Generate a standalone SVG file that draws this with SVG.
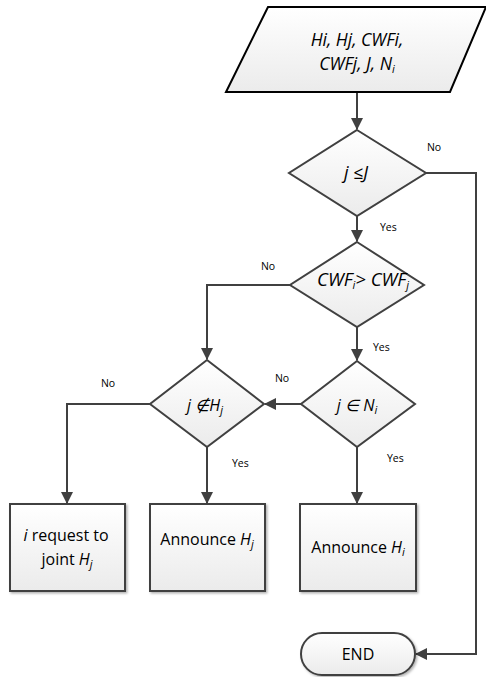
<svg xmlns="http://www.w3.org/2000/svg" width="486" height="677" viewBox="0 0 486 677">
<style>
.shape{fill:url(#g);stroke:#404040;stroke-width:2}
.io{fill:url(#g);stroke:#000;stroke-width:2}
.conn{fill:none;stroke:#404040;stroke-width:2}
.t{font-family:"Open Sans","Liberation Sans",sans-serif;font-size:16px;fill:#000;text-anchor:middle}
.it{font-style:italic}
.lbl{font-family:"Open Sans","Liberation Sans",sans-serif;font-size:10.5px;fill:#000}
.sub{font-size:11px}
</style>
<defs>
<linearGradient id="g" x1="0" y1="0" x2="0" y2="1">
<stop offset="0" stop-color="#ffffff"/>
<stop offset="1" stop-color="#ebebeb"/>
</linearGradient>
<filter id="sh" x="-10%" y="-10%" width="130%" height="130%">
<feDropShadow dx="1.5" dy="1.5" stdDeviation="1" flood-color="#000" flood-opacity="0.3"/>
</filter>
<marker id="ah" markerWidth="12" markerHeight="12" refX="11" refY="6" orient="auto" markerUnits="userSpaceOnUse">
<path d="M0,0 L12,6 L0,12 z" fill="#404040"/>
</marker>
</defs>

<g id="connectors">
<path class="conn" d="M357,92 V129" marker-end="url(#ah)"/>
<path class="conn" d="M426,173 H476 V654 H416" marker-end="url(#ah)"/>
<path class="conn" d="M357,216 V241" marker-end="url(#ah)"/>
<path class="conn" d="M290,285 H207 V359" marker-end="url(#ah)"/>
<path class="conn" d="M357,327 V360" marker-end="url(#ah)"/>
<path class="conn" d="M301,404 H265" marker-end="url(#ah)"/>
<path class="conn" d="M150,404 H67 V503" marker-end="url(#ah)"/>
<path class="conn" d="M207,447 V503" marker-end="url(#ah)"/>
<path class="conn" d="M357,447 V503" marker-end="url(#ah)"/>
<text class="lbl" x="434" y="151" text-anchor="middle">No</text>
<text class="lbl" x="380" y="231">Yes</text>
<text class="lbl" x="268" y="270" text-anchor="middle">No</text>
<text class="lbl" x="373" y="351">Yes</text>
<text class="lbl" x="108" y="387" text-anchor="middle">No</text>
<text class="lbl" x="282" y="382" text-anchor="middle">No</text>
<text class="lbl" x="232" y="467">Yes</text>
<text class="lbl" x="387" y="462">Yes</text>
</g>

<g id="input">
<polygon class="io" points="268,7 486,7 450,92 226,92"/>
<text class="t it" x="357" y="46" style="font-size:17.5px">Hi, Hj, CWFi,</text>
<text class="t it" x="357" y="70" style="font-size:17.5px">CWFj, J, N<tspan class="sub" dy="3">i</tspan></text>
</g>

<g id="d1">
<polygon class="shape" points="357,130 426,173 357,216 289,173"/>
<text class="t it" x="356" y="179" style="font-size:18px">j ≤J</text>
</g>

<g id="d2">
<polygon class="shape" points="357,242 424,285 357,327 290,285"/>
<text class="t it" x="363" y="286" style="font-size:18.5px">CWF<tspan class="sub" dy="3">i</tspan><tspan dy="-3">&gt; CWF</tspan><tspan class="sub" dy="3">j</tspan></text>
</g>

<g id="d3">
<polygon class="shape" points="207,360 264,404 207,447 150,404"/>
<text class="t it" x="205" y="411">j ∉H<tspan class="sub" dy="3">j</tspan></text>
</g>

<g id="d4">
<polygon class="shape" points="357,361 415,404 357,447 301,404"/>
<text class="t it" x="357" y="411">j ∈ N<tspan class="sub" dy="3">i</tspan></text>
</g>

<g id="box1">
<rect class="shape" x="10" y="504" width="115" height="87" filter="url(#sh)"/>
<text class="t" x="66" y="541"><tspan class="it">i</tspan> request to</text>
<text class="t" x="67" y="565">joint <tspan class="it">H</tspan><tspan class="sub it" dy="3">j</tspan></text>
</g>

<g id="box2">
<rect class="shape" x="150" y="504" width="115" height="87" filter="url(#sh)"/>
<text class="t" x="207" y="545">Announce <tspan class="it">H</tspan><tspan class="sub it" dy="3">j</tspan></text>
</g>

<g id="box3">
<rect class="shape" x="300" y="504" width="116" height="87" filter="url(#sh)"/>
<text class="t" x="358" y="553">Announce <tspan class="it">H</tspan><tspan class="sub it" dy="3">i</tspan></text>
</g>

<g id="end">
<rect class="shape" x="301" y="633" width="114" height="42" rx="21" ry="21" filter="url(#sh)"/>
<text class="t" x="358" y="660">END</text>
</g>
</svg>
